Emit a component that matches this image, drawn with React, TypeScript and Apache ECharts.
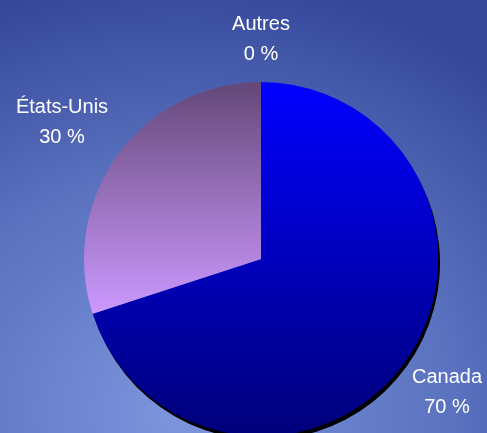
import React, { useEffect, useRef } from "react";
import * as echarts from "echarts";

const categories = ["Canada", "États-Unis", "Autres"];
const values = [70, 30, 0];

const labelPos = [
  [447, 391],
  [62, 121],
  [261, 38],
];

export default function App() {
  const ref = useRef<HTMLDivElement>(null);
  useEffect(() => {
    const chart = echarts.init(ref.current!, null, { renderer: "svg" });
    const colors = [
      {
        color: new echarts.graphic.LinearGradient(0, 0, 0, 1, [
          { offset: 0, color: "#0000ff" },
          { offset: 1, color: "#00007a" },
        ]),
        shadowColor: "#000000",
        shadowOffsetX: 2,
        shadowOffsetY: 4,
        shadowBlur: 0,
      },
      {
        color: new echarts.graphic.LinearGradient(0, 0, 0, 1, [
          { offset: 0, color: "#644878" },
          { offset: 1, color: "#cc99ff" },
        ]),
      },
      { color: "#888888" },
    ];
    chart.setOption({
      animation: false,
      backgroundColor: new echarts.graphic.RadialGradient(0.38, 0.95, 1.0, [
        { offset: 0, color: "#7d96de" },
        { offset: 0.55, color: "#5a72bf" },
        { offset: 1, color: "#35489a" },
      ]),
      series: [
        {
          type: "pie",
          center: [261, 259],
          radius: 177,
          startAngle: 90,
          clockwise: true,
          minAngle: 0,
          avoidLabelOverlap: false,
          label: {
            show: true,
            formatter: "{b}\n{d} %",
            color: "#ffffff",
            fontFamily: "Liberation Sans, Arial, sans-serif",
            fontSize: 20,
            lineHeight: 30,
            align: "center",
          },
          labelLine: { show: false },
          labelLayout: (params: any) => ({
            x: labelPos[params.dataIndex][0],
            y: labelPos[params.dataIndex][1],
            align: "center",
            verticalAlign: "middle",
          }),
          emphasis: { disabled: true },
          data: categories.map((name, i) => ({
            name,
            value: values[i],
            itemStyle: colors[i],
          })),
        },
      ],
    });
    return () => chart.dispose();
  }, []);
  return (
    <div
      ref={ref}
      style={{ position: "fixed", left: 0, top: 0, width: 487, height: 433 }}
    />
  );
}
